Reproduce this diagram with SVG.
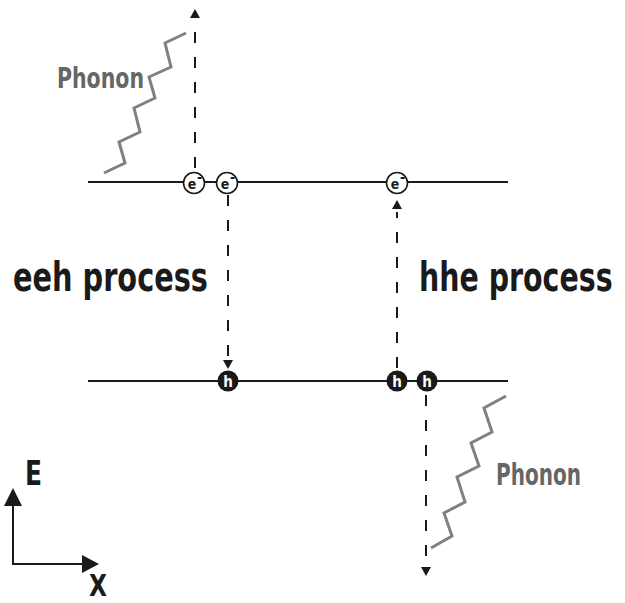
<svg xmlns="http://www.w3.org/2000/svg" width="625" height="603" viewBox="0 0 625 603">
  <style>
    .band { stroke: #1a1a1a; stroke-width: 2; fill: none; }
    .jump { stroke: #1a1a1a; stroke-width: 2; fill: none; stroke-dasharray: 11 14; }
    .phonon { stroke: #808080; stroke-width: 3; fill: none; stroke-linejoin: miter; }
    .axis { stroke: #1a1a1a; stroke-width: 2; fill: none; }
    .head { fill: #1a1a1a; }
    .big { font-family: "DejaVu Sans", "Liberation Sans", sans-serif; font-weight: bold; font-stretch: condensed; fill: #1a1a1a; }
    .ph { font-family: "DejaVu Sans", "Liberation Sans", sans-serif; font-weight: bold; font-stretch: condensed; fill: #666666; }
    .electron circle { fill: #ffffff; stroke: #1a1a1a; stroke-width: 1.6; }
    .electron text { font-family: "DejaVu Sans", "Liberation Sans", sans-serif; font-weight: bold; font-stretch: condensed; font-size: 14px; fill: #1a1a1a; }
    .hole circle { fill: #1a1a1a; }
    .hole text { font-family: "DejaVu Sans", "Liberation Sans", sans-serif; font-weight: bold; font-stretch: condensed; font-size: 15px; fill: #ffffff; }
  </style>

  <!-- conduction and valence band edges -->
  <g id="bands">
    <line class="band" x1="88" y1="182" x2="508" y2="182"/>
    <line class="band" x1="88" y1="381" x2="508" y2="381"/>
  </g>

  <!-- transitions and phonons -->
  <g id="connectors">
    <!-- eeh: electron excited upward -->
    <line class="jump" x1="195" y1="168" x2="195" y2="22"/>
    <polygon class="head" points="195,9 190,18 200,18"/>
    <!-- eeh: electron drops to hole -->
    <line class="jump" x1="228" y1="195" x2="228" y2="358"/>
    <polygon class="head" points="228,369 223,360 233,360"/>
    <!-- hhe: hole to electron upward -->
    <line class="jump" x1="397" y1="368" x2="397" y2="212"/>
    <polygon class="head" points="397,200 392,209 402,209"/>
    <!-- hhe: hole pushed downward -->
    <line class="jump" x1="426" y1="395" x2="426" y2="562"/>
    <polygon class="head" points="426,576 421,567 431,567"/>

    <polyline class="phonon" points="104,173 125,163 119,142 140,132 134,108 155,98 149,77 171,67 165,43 186,33"/>
    <polyline class="phonon" points="431,548 452,536 444,513 465,502 457,477 479,466 471,443 492,432 484,408 506,396"/>
  </g>

  <g id="e1" class="electron">
    <circle cx="194" cy="183" r="10.5"/>
    <text x="192" y="188.5" text-anchor="middle">e</text>
    <text x="199.5" y="182" text-anchor="middle" font-size="10">-</text>
  </g>
  <g id="e2" class="electron">
    <circle cx="227" cy="183" r="10.5"/>
    <text x="225" y="188.5" text-anchor="middle">e</text>
    <text x="232.5" y="182" text-anchor="middle" font-size="10">-</text>
  </g>
  <g id="e3" class="electron">
    <circle cx="397" cy="183" r="10.5"/>
    <text x="395" y="188.5" text-anchor="middle">e</text>
    <text x="402.5" y="182" text-anchor="middle" font-size="10">-</text>
  </g>

  <g id="h1" class="hole">
    <circle cx="228" cy="381" r="10.5"/>
    <text x="228" y="386.5" text-anchor="middle">h</text>
  </g>
  <g id="h2" class="hole">
    <circle cx="397" cy="381" r="10.5"/>
    <text x="397" y="386.5" text-anchor="middle">h</text>
  </g>
  <g id="h3" class="hole">
    <circle cx="427" cy="381" r="10.5"/>
    <text x="427" y="386.5" text-anchor="middle">h</text>
  </g>

  <g id="labels">
    <text class="ph" x="57" y="88" font-size="29" textLength="87" lengthAdjust="spacingAndGlyphs">Phonon</text>
    <text class="ph" x="496" y="485" font-size="31" textLength="85" lengthAdjust="spacingAndGlyphs">Phonon</text>
    <text class="big" x="13" y="291" font-size="41" textLength="195" lengthAdjust="spacingAndGlyphs">eeh process</text>
    <g transform="translate(419 291) scale(0.8 1)">
      <text class="big" x="0" y="0" font-size="41" textLength="242" lengthAdjust="spacingAndGlyphs">hhe process</text>
    </g>
  </g>

  <!-- energy / position axes -->
  <g id="axes">
    <line class="axis" x1="13" y1="505" x2="13" y2="565"/>
    <line class="axis" x1="12" y1="564" x2="84" y2="564"/>
    <polygon class="head" points="13,488 4,506 22,506"/>
    <polygon class="head" points="99,564 82,555 82,573"/>
    <text class="big" x="25" y="485" font-size="34" textLength="17" lengthAdjust="spacingAndGlyphs">E</text>
    <text class="big" x="89" y="596" font-size="30" textLength="18" lengthAdjust="spacingAndGlyphs">X</text>
  </g>
</svg>
